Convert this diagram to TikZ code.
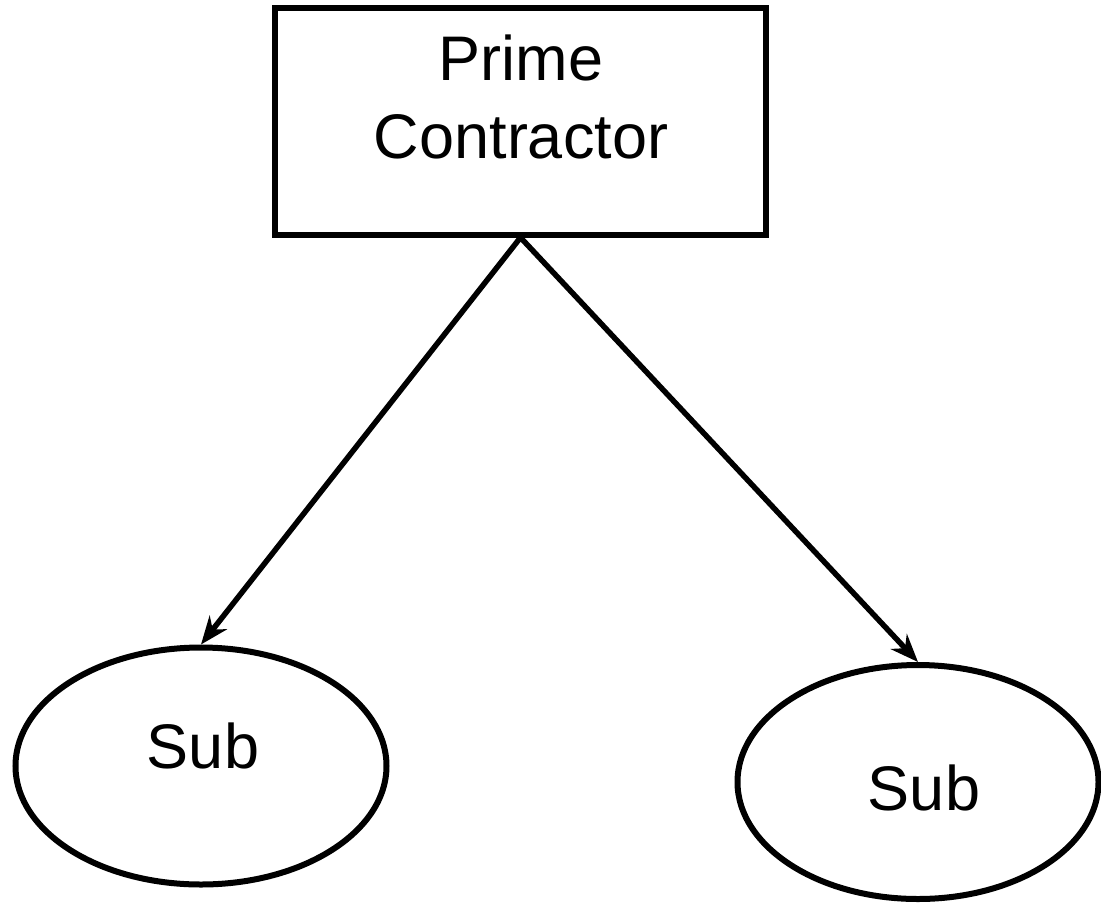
\documentclass[tikz,border=0pt]{standalone}
\usepackage{fontspec}
\setmainfont{Liberation Sans}
\usetikzlibrary{shapes.geometric,arrows.meta}
\tikzset{
  boxshape/.style={draw=black, line width=6pt, rectangle, inner sep=0pt},
  subshape/.style={draw=black, line width=6pt, ellipse, inner sep=0pt},
  bigtext/.style={font=\fontsize{63}{78}\selectfont, inner sep=0pt, anchor=base},
  conn/.style={draw=black, line width=5.5pt, -{Stealth[length=28pt,width=22pt]}}
}
\begin{document}
\begin{tikzpicture}[x=1pt,y=-1pt]
\useasboundingbox (0,0) rectangle (1101,906);
\fill[white] (0,0) rectangle (1101,906);
% prime contractor box
\node[boxshape, minimum width=491pt, minimum height=227pt] (prime) at (520.5,121) {};
\node[bigtext] (primeA) at (521,80) {Prime};
\node[bigtext] (primeB) at (521,158) {Contractor};
% sub ellipses
\node[subshape, minimum width=371pt, minimum height=237pt] (subL) at (201,766) {};
\node[bigtext] (subLt) at (203,768) {Sub};
\node[subshape, minimum width=361pt, minimum height=234pt] (subR) at (918,782) {};
\node[bigtext] (subRt) at (924,810) {Sub};
% connectors
\draw[conn] (prime.south) -- (subL.north);
\draw[conn] (prime.south) -- (subR.north);
\end{tikzpicture}
\end{document}
